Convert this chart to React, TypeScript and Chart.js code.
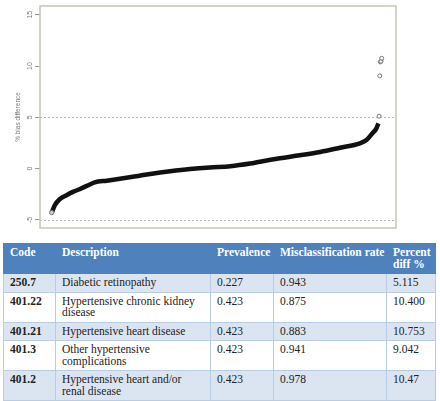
import React, { useEffect, useRef } from "react";
import { Chart, registerables } from "chart.js";

Chart.register(...registerables);

// Sorted % bias difference (rank along x, value along y)
const curveRank = [1, 6, 13, 24, 34, 44, 54, 66, 84, 109, 134, 150, 180, 210, 240, 271, 301, 316, 346, 376, 407, 437, 467, 477, 485, 492, 495];
const curveBias = [-4.28, -3.53, -2.98, -2.56, -2.24, -1.98, -1.68, -1.33, -1.17, -0.94, -0.68, -0.52, -0.26, -0.04, 0.12, 0.24, 0.5, 0.68, 1.01, 1.3, 1.63, 2.04, 2.47, 2.79, 3.38, 3.93, 4.42];
// Outlying codes (the ones listed in the table)
const outlierRank = [496, 497, 498, 499, 500];
const outlierBias = [5.115, 9.042, 10.4, 10.47, 10.753];

const yTickValues = [-5, 0, 5, 10, 15];
const refLines = [-5, 5];
const yTitle = "% bias difference";

const tableHeaders = ["Code", "Description", "Prevalence", "Misclassification rate", "Percent diff %"];
const codes = ["250.7", "401.22", "401.21", "401.3", "401.2"];
const descriptions = [
  "Diabetic retinopathy",
  "Hypertensive chronic kidney disease",
  "Hypertensive heart disease",
  "Other hypertensive complications",
  "Hypertensive heart and/or renal disease",
];
const prevalence = ["0.227", "0.423", "0.423", "0.423", "0.423"];
const misclassification = ["0.943", "0.875", "0.883", "0.941", "0.978"];
const percentDiff = ["5.115", "10.400", "10.753", "9.042", "10.47"];

const boxPlugin = {
  id: "rbox",
  beforeDatasetsDraw(chart: any) {
    const { ctx, chartArea, scales } = chart;
    const y = scales.y;
    ctx.save();
    ctx.strokeStyle = "#b5b5b5";
    ctx.lineWidth = 1;
    ctx.setLineDash([2, 2]);
    refLines.forEach((v) => {
      const py = Math.round(y.getPixelForValue(v)) + 0.5;
      ctx.beginPath();
      ctx.moveTo(chartArea.left, py);
      ctx.lineTo(chartArea.right, py);
      ctx.stroke();
    });
    ctx.restore();
  },
  afterDraw(chart: any) {
    const { ctx, chartArea, scales } = chart;
    const y = scales.y;
    ctx.save();
    ctx.strokeStyle = "#c9c4b6";
    ctx.lineWidth = 1.5;
    ctx.strokeRect(chartArea.left, chartArea.top, chartArea.right - chartArea.left, chartArea.bottom - chartArea.top);
    ctx.fillStyle = "#7a7a7a";
    ctx.font = "7px 'Liberation Sans', sans-serif";
    ctx.textAlign = "center";
    ctx.textBaseline = "middle";
    yTickValues.forEach((v) => {
      const py = y.getPixelForValue(v);
      ctx.save();
      ctx.translate(chartArea.left - 10, py);
      ctx.rotate(-Math.PI / 2);
      ctx.fillText(String(v), 0, 0);
      ctx.restore();
    });
    ctx.restore();
  },
};

function ChartBox() {
  const ref = useRef<HTMLCanvasElement | null>(null);
  useEffect(() => {
    if (!ref.current) return;
    const chart = new Chart(ref.current, {
      type: "scatter",
      data: {
        datasets: [
          {
            data: curveRank.map((r, i) => ({ x: r, y: curveBias[i] })),
            showLine: true,
            borderColor: "#111111",
            borderWidth: 4.5,
            cubicInterpolationMode: "monotone",
            pointRadius: (c: any) => (c.dataIndex === 0 ? 2.2 : 0),
            pointBorderColor: "#777777",
            pointBackgroundColor: "#cccccc",
            pointBorderWidth: 1,
          },
          {
            data: outlierRank.map((r, i) => ({ x: r, y: outlierBias[i] })),
            showLine: false,
            pointRadius: 2,
            pointBorderColor: "#777777",
            pointBackgroundColor: "rgba(255,255,255,0.6)",
            pointBorderWidth: 1,
          },
        ],
      } as any,
      options: {
        animation: false,
        responsive: false,
        devicePixelRatio: 1,
        layout: { padding: { top: 6, right: 44, bottom: 8, left: 0 } },
        plugins: { legend: { display: false }, tooltip: { enabled: false } },
        scales: {
          x: { type: "linear", display: false, min: -16.7, max: 521.6 },
          y: {
            type: "linear",
            min: -5.78,
            max: 15.85,
            afterBuildTicks: (s: any) => {
              s.ticks = yTickValues.map((v) => ({ value: v }));
            },
            afterFit: (s: any) => {
              s.width = 40;
            },
            ticks: { display: false },
            grid: { drawOnChartArea: false, drawTicks: true, tickLength: 5, tickColor: "#999999", tickWidth: 1 },
            border: { display: false },
            title: {
              display: true,
              text: yTitle,
              color: "#7a7a7a",
              font: { size: 6.5, family: "'Liberation Sans', sans-serif" },
              padding: { top: 14, bottom: 0 },
            },
          },
        },
      } as any,
      plugins: [boxPlugin],
    });
    return () => chart.destroy();
  }, []);
  return <canvas ref={ref} width={440} height={236} style={{ display: "block", width: 440, height: 236 }} />;
}

const colWidths = [52, 155, 63, 113, 49];

export default function App() {
  const cellBase: React.CSSProperties = {
    padding: "3px 5px 3px 6px",
    verticalAlign: "top",
    textAlign: "left",
    lineHeight: "11.5px",
  };
  return (
    <div style={{ position: "fixed", left: 0, top: 0, width: 440, height: 401, background: "#fff", overflow: "hidden" }}>
      <ChartBox />
      <table
        style={{
          position: "absolute",
          left: 3,
          top: 243,
          width: 432,
          borderCollapse: "collapse",
          tableLayout: "fixed",
          fontFamily: "'Liberation Serif', serif",
          fontSize: 11.5,
          color: "#222",
        }}
      >
        <colgroup>
          {colWidths.map((w, i) => (
            <col key={i} style={{ width: w }} />
          ))}
        </colgroup>
        <thead>
          <tr style={{ background: "#4f81bd" }}>
            {tableHeaders.map((h, i) => (
              <th
                key={i}
                style={{
                  ...cellBase,
                  fontSize: 11.5,
                  whiteSpace: i === 3 ? "nowrap" : "normal",
                  paddingRight: i === 3 ? 2 : 5,
                  color: "#fff",
                  fontWeight: "bold",
                  border: "1px solid #4f81bd",
                  height: 23,
                }}
              >
                {h}
              </th>
            ))}
          </tr>
        </thead>
        <tbody>
          {codes.map((c, i) => (
            <tr key={i} style={{ background: i % 2 === 0 ? "#dbe5f1" : "#ffffff" }}>
              {[c, descriptions[i], prevalence[i], misclassification[i], percentDiff[i]].map((v, j) => (
                <td
                  key={j}
                  style={{
                    ...cellBase,
                    paddingRight: j === 1 ? 9 : 5,
                    border: "1px solid #b8cce4",
                    fontWeight: j === 0 ? "bold" : "normal",
                  }}
                >
                  {v}
                </td>
              ))}
            </tr>
          ))}
        </tbody>
      </table>
    </div>
  );
}
